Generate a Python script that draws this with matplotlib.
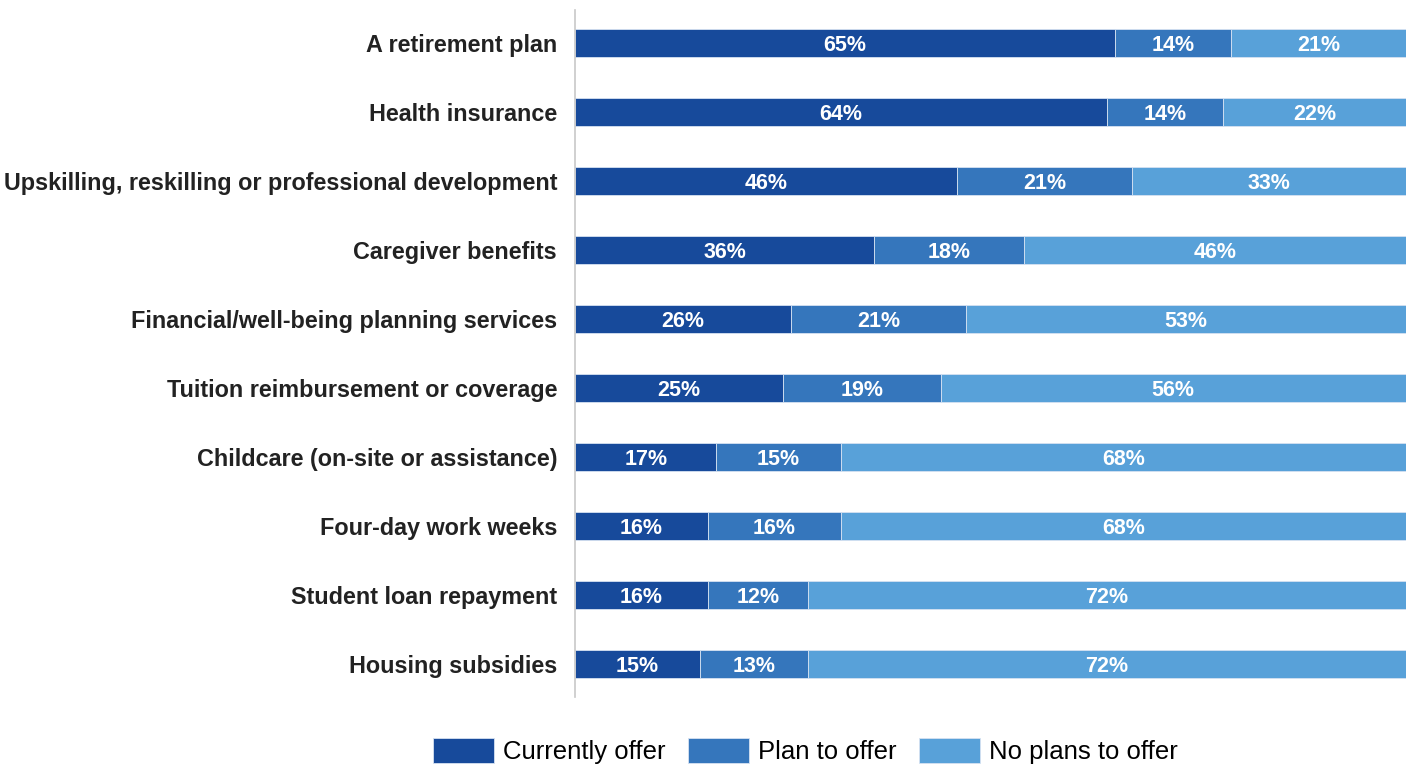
import matplotlib.pyplot as plt
import numpy as np

plt.rcParams['font.family'] = ['Liberation Sans', 'DejaVu Sans']

categories = [
    'A retirement plan',
    'Health insurance',
    'Upskilling, reskilling or professional development',
    'Caregiver benefits',
    'Financial/well-being planning services',
    'Tuition reimbursement or coverage',
    'Childcare (on-site or assistance)',
    'Four-day work weeks',
    'Student loan repayment',
    'Housing subsidies',
]
currently_offer = [65, 64, 46, 36, 26, 25, 17, 16, 16, 15]
plan_to_offer = [14, 14, 21, 18, 21, 19, 15, 16, 12, 13]
no_plans = [21, 22, 33, 46, 53, 56, 68, 68, 72, 72]

series = [
    ('Currently offer', currently_offer, '#174a9b'),
    ('Plan to offer', plan_to_offer, '#3576bc'),
    ('No plans to offer', no_plans, '#58a1d9'),
]

fig = plt.figure(figsize=(14.13, 7.65), dpi=100)
ax = fig.add_axes([0.407, 0.089, 0.588, 0.898])

y = np.arange(len(categories))
left = np.zeros(len(categories))
for name, vals, color in series:
    vals = np.array(vals, dtype=float)
    ax.barh(y, vals, left=left, height=0.41, color=color,
            edgecolor='#d6e2f2', linewidth=0.6, label=name)
    # percentage labels centred on each segment
    for yi, l, v in zip(y, left, vals):
        ax.text(l + v / 2, yi + 0.04, f'{v:.0f}%', ha='center', va='center',
                color='white', fontsize=15.5, fontweight='bold')
    left += vals

ax.set_xlim(0, 100)
ax.set_ylim(len(categories) - 0.52, -0.48)
ax.set_yticks(y)
ax.set_yticklabels(categories, fontsize=16.8, fontweight='bold', color='#222222')
ax.tick_params(axis='y', length=0, pad=13)
ax.set_xticks([])
for side in ['top', 'right', 'bottom']:
    ax.spines[side].set_visible(False)
ax.spines['left'].set_color('#c8c8c8')
ax.spines['left'].set_linewidth(1.2)

fig.legend(loc='center', bbox_to_anchor=(0.570, 0.018), ncol=3, frameon=False,
           fontsize=18.5, handlelength=2.4, handleheight=1.1, handletextpad=0.35,
           columnspacing=0.85, borderaxespad=0)

fig.savefig('out.png', dpi=100)
